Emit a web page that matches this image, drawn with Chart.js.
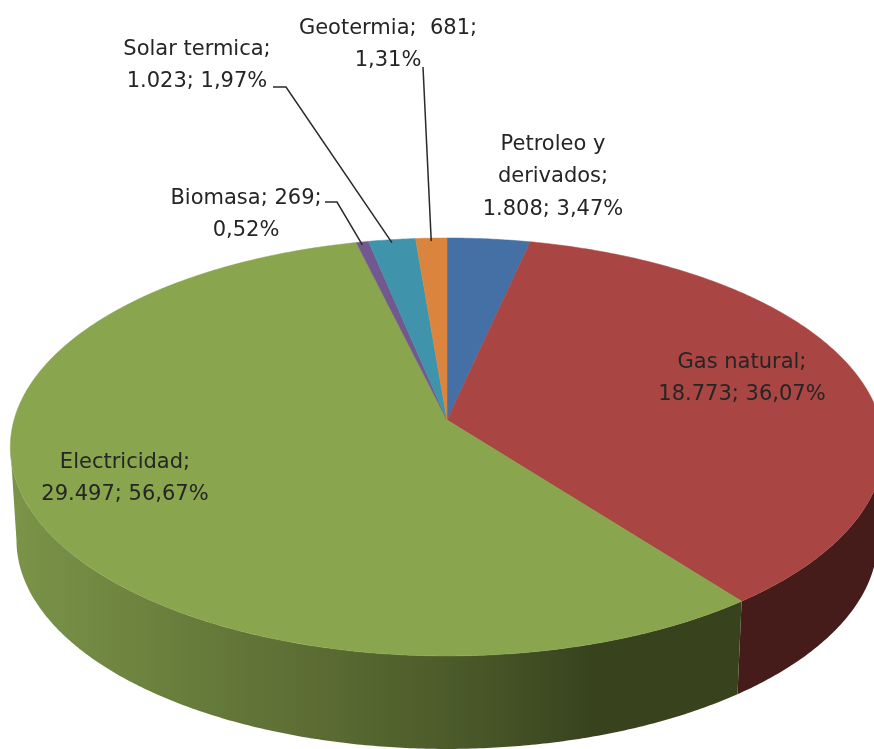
<!DOCTYPE html>
<html>
<head>
<meta charset="utf-8">
<style>
html, body { margin: 0; padding: 0; background: #fff; overflow: hidden; }
canvas { display: block; }
</style>
<script src="https://cdn.jsdelivr.net/npm/chart.js@4"></script>
</head>
<body>
<canvas id="pie_chart" width="874" height="749"></canvas>
<script>
const categories = ['Petroleo y derivados', 'Gas natural', 'Electricidad', 'Biomasa', 'Solar termica', 'Geotermia'];
const values = [1808, 18773, 29497, 269, 1023, 681];
const label_lines = [
    ['Petroleo y', 'derivados;', '1.808; 3,47%'],
    ['Gas natural;', '18.773; 36,07%'],
    ['Electricidad;', '29.497; 56,67%'],
    ['Biomasa; 269;', '0,52%'],
    ['Solar termica;', '1.023; 1,97%'],
    ['Geotermia;  681;', '1,31%']
];

const top_colors = ['#4570a5', '#a94542', '#89a54e', '#71588f', '#3f93ab', '#db843d'];
const wall_colors = ['#233853', '#451c19', '#38431e', '#382c47', '#1f4955', '#6d421e'];

// where each label block sits (centre x, first baseline y)
const label_pos = [[553, 150], [742, 368], [125, 468], [246, 204], [197, 55], [388, 34]];
const line_height = 32.3;

// pie seen in perspective: centre, radii and tilt
const cx = 447, cy = 420, rx = 433, ry = 205.5, tilt = 0.129;
const depth = 93, wall_shrink = 0.986;

// only this part of the rim has a visible wall, between the two side tangents
const front_start = Math.asin(tilt), front_end = Math.PI - Math.asin(tilt);

function topPoint(angle) {
    let u = Math.cos(angle), v = Math.sin(angle);
    let w = 1 - tilt * v;
    return [cx + rx * u / w, cy + ry * v / w];
}
function wallPoint(angle) {
    let p = topPoint(angle);
    return [cx + (p[0] - cx) * wall_shrink, p[1] + depth];
}
function arcPoints(from, to, fn) {
    let pts = [];
    let steps = Math.max(4, Math.ceil((to - from) * 120));
    for (let i = 0; i <= steps; i++) {
        pts.push(fn(from + (to - from) * i / steps));
    }
    return pts;
}
function tracePath(ctx, pts) {
    ctx.beginPath();
    pts.forEach((p, i) => i ? ctx.lineTo(p[0], p[1]) : ctx.moveTo(p[0], p[1]));
    ctx.closePath();
}

const pie3d = {
    id: 'pie3d',
    beforeDatasetsDraw(chart) {
        const ctx = chart.ctx;
        const arcs = chart.getDatasetMeta(0).data;

        // green wall is shaded left to right, the others are flat
        let green = ctx.createLinearGradient(10, 0, 740, 0);
        green.addColorStop(0, '#7b9448');
        green.addColorStop(0.25, '#677c3b');
        green.addColorStop(0.4, '#5d6e34');
        green.addColorStop(0.62, '#4a5929');
        green.addColorStop(0.8, '#38431e');
        green.addColorStop(1, '#38431e');

        arcs.forEach((el, i) => {
            let from = Math.max(el.startAngle, front_start);
            let to = Math.min(el.endAngle, front_end);
            if (to <= from) return;
            let upper = arcPoints(from, to, topPoint);
            let lower = arcPoints(from, to, wallPoint).reverse();
            tracePath(ctx, upper.concat(lower));
            ctx.fillStyle = i == 2 ? green : wall_colors[i];
            ctx.fill();
        });
        arcs.forEach((el, i) => {
            tracePath(ctx, [[cx, cy]].concat(arcPoints(el.startAngle, el.endAngle, topPoint)));
            ctx.fillStyle = top_colors[i];
            ctx.fill();
            ctx.strokeStyle = top_colors[i];
            ctx.lineWidth = 0.5;
            ctx.stroke();
        });

        // leader lines go from the label to the middle of the slice
        ctx.strokeStyle = '#2a2a2a';
        ctx.lineWidth = 1.5;
        let leaders = { 3: [[325, 202], [337, 202]], 4: [[273, 87], [286, 87]], 5: [[423, 67]] };
        for (let i in leaders) {
            let mid = (arcs[i].startAngle + arcs[i].endAngle) / 2;
            let end = topPoint(mid);
            ctx.beginPath();
            leaders[i].forEach((p, k) => k ? ctx.lineTo(p[0], p[1]) : ctx.moveTo(p[0], p[1]));
            ctx.lineTo(end[0], end[1] + 3);
            ctx.stroke();
        }

        ctx.font = '21px "DejaVu Sans"';
        ctx.fillStyle = '#252525';
        ctx.textAlign = 'center';
        ctx.textBaseline = 'alphabetic';
        label_lines.forEach((lines, i) => {
            lines.forEach((line, k) => {
                ctx.fillText(line, label_pos[i][0], label_pos[i][1] + k * line_height);
            });
        });
        return false;
    }
};

new Chart(document.getElementById('pie_chart'), {
    type: 'pie',
    data: {
        labels: categories,
        datasets: [{ data: values, backgroundColor: top_colors, borderWidth: 0 }]
    },
    options: {
        responsive: false,
        animation: false,
        plugins: {
            legend: { display: false },
            tooltip: { enabled: false }
        }
    },
    plugins: [pie3d]
});
</script>
</body>
</html>
